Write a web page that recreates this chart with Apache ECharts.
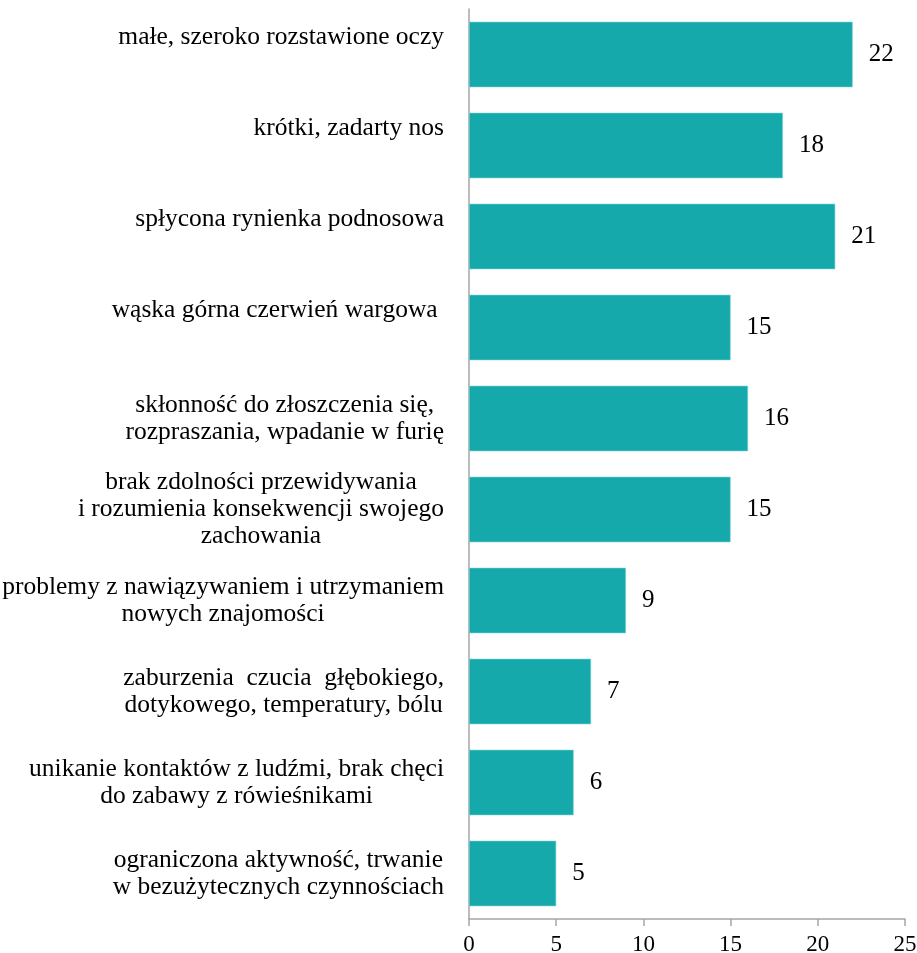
<!DOCTYPE html>
<html>
<head>
<meta charset="utf-8">
<script src="https://cdn.jsdelivr.net/npm/echarts@6/dist/echarts.min.js"></script>
<style>
  html, body { margin: 0; padding: 0; background: #fff; }
  #chart { width: 917px; height: 953px; }
</style>
</head>
<body>
<div id="chart"></div>
<script>
// categories top to bottom, a trailing empty line lifts the one-line labels like in the source
const categories = [
  'małe, szeroko rozstawione oczy\n',
  'krótki, zadarty nos\n',
  'spłycona rynienka podnosowa\n',
  'wąska górna czerwień wargowa \n',
  'skłonność do złoszczenia się,\nrozpraszania, wpadanie w furię',
  'brak zdolności przewidywania\ni rozumienia konsekwencji swojego\nzachowania',
  'problemy z nawiązywaniem i utrzymaniem\nnowych znajomości',
  'zaburzenia  czucia  głębokiego,\ndotykowego, temperatury, bólu',
  'unikanie kontaktów z ludźmi, brak chęci\ndo zabawy z rówieśnikami',
  'ograniczona aktywność, trwanie\nw bezużytecznych czynnościach'
];
const values = [22, 18, 21, 15, 16, 15, 9, 7, 6, 5];

const font = '"Liberation Serif", "Times New Roman", serif';
const chart = echarts.init(document.getElementById('chart'));

chart.setOption({
  animation: false,
  grid: { left: 469, right: 12, top: 9, bottom: 34, containLabel: false, outerBoundsMode: 'none' },
  xAxis: {
    type: 'value',
    min: 0,
    max: 25,
    interval: 5,
    splitLine: { show: false },
    axisLine: { show: true, lineStyle: { color: '#a6a6a6', width: 1.5 } },
    axisTick: { show: true, length: 7, lineStyle: { color: '#a6a6a6', width: 1.5 } },
    axisLabel: { color: '#000', fontFamily: font, fontSize: 23, margin: 14 }
  },
  yAxis: {
    type: 'category',
    inverse: true,
    data: categories,
    axisLine: { show: true, lineStyle: { color: '#a6a6a6', width: 1.5 } },
    axisTick: { show: false },
    axisLabel: {
      margin: 25,
      align: 'right',
      formatter: function (v) {
        return v.split('\n').map(function (l) {
          return l ? '{c|' + l + '}' : '{e| }';
        }).join('\n');
      },
      rich: {
        c: { align: 'center', color: '#000', fontFamily: font, fontSize: 25.5, lineHeight: 27 },
        e: { fontFamily: font, fontSize: 25, lineHeight: 34 }
      }
    }
  },
  series: [{
    type: 'bar',
    data: values,
    barCategoryGap: '28%',
    itemStyle: { color: '#16a9ab', borderColor: '#7fd3d4', borderWidth: 0.6 },
    label: {
      show: true,
      position: 'right',
      distance: 16,
      color: '#000',
      fontFamily: font,
      fontSize: 25
    }
  }]
});
</script>
</body>
</html>
